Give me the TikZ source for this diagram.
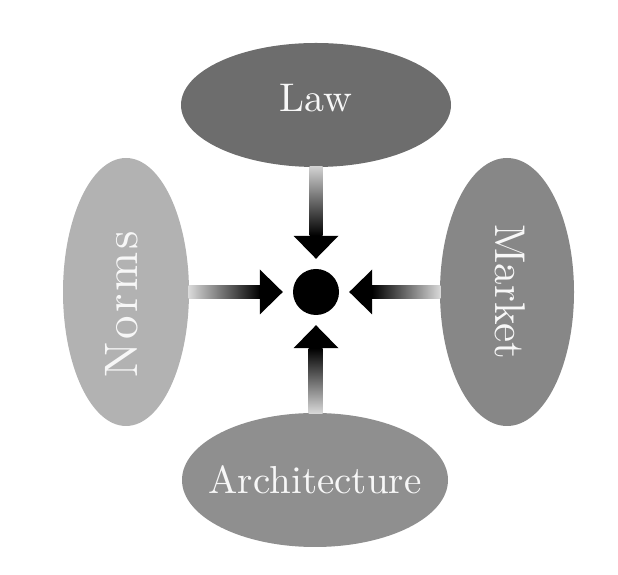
\documentclass[tikz,border=0pt]{standalone}
\usepackage{fontspec}
\usepackage{tikz}
\usepackage{xcolor}
\usetikzlibrary{shapes.geometric, calc}

\newfontfamily\forcefont[Extension=.otf]{lmroman10-regular}

\definecolor{lawgray}{HTML}{6D6D6D}
\definecolor{normsgray}{HTML}{B2B2B2}
\definecolor{marketgray}{HTML}{878787}
\definecolor{archgray}{HTML}{8F8F8F}

\begin{document}
\begin{tikzpicture}[x=1pt, y=1pt,
        force/.style={ellipse, fill=#1, inner sep=0pt},
        forcetext/.style={text=white!97!black, font=\forcefont\fontsize{#1}{#1}\selectfont}]
        \useasboundingbox (0,0) rectangle (618,575);

        \node[circle, fill=black, minimum size=46pt, inner sep=0pt] (hub) at (316,283) {};

        \node[force=lawgray, minimum width=270pt, minimum height=124pt,
            label={[forcetext=40, yshift=7]center:Law}] (law) at (316,470) {};
        \node[force=normsgray, minimum width=126pt, minimum height=268pt,
            label={[forcetext=47, rotate=90, xshift=-12, yshift=4]center:\addfontfeatures{LetterSpace=6}Norms}] (norms) at (126,283) {};
        \node[force=marketgray, minimum width=134pt, minimum height=268pt,
            label={[forcetext=43, rotate=-90, yshift=3]center:Market}] (market) at (507,283) {};
        \node[force=archgray, minimum width=266pt, minimum height=134pt,
            label={[forcetext=39]center:Architecture}] (arch) at (315,95) {};

        \shade[top color=black!18, bottom color=black] ($(law.south)+(-6.5,0.5)$) rectangle ($(hub.north)+(6.5,33)$);
        \fill ($(hub.north)+(0,10)$) -- ++(-22.5,23) -- ++(45,0) -- cycle;

        \shade[left color=black!15, right color=black] ($(norms.east)+(-0.5,-6.5)$) rectangle ($(hub.west)+(-33,6.5)$);
        \fill ($(hub.west)+(-10,0)$) -- ++(-23,22.5) -- ++(0,-45) -- cycle;

        \shade[left color=black, right color=black!15] ($(market.west)+(0.5,-6.5)$) rectangle ($(hub.east)+(33,6.5)$);
        \fill ($(hub.east)+(10,0)$) -- ++(23,22.5) -- ++(0,-45) -- cycle;

        \shade[top color=black, bottom color=black!15] ($(arch.north)+(-6.5,-0.5)$) rectangle ($(hub.south)+(6.5,-33)$);
        \fill ($(hub.south)+(0,-10)$) -- ++(-22.5,-23) -- ++(45,0) -- cycle;
    \end{tikzpicture}
\end{document}
